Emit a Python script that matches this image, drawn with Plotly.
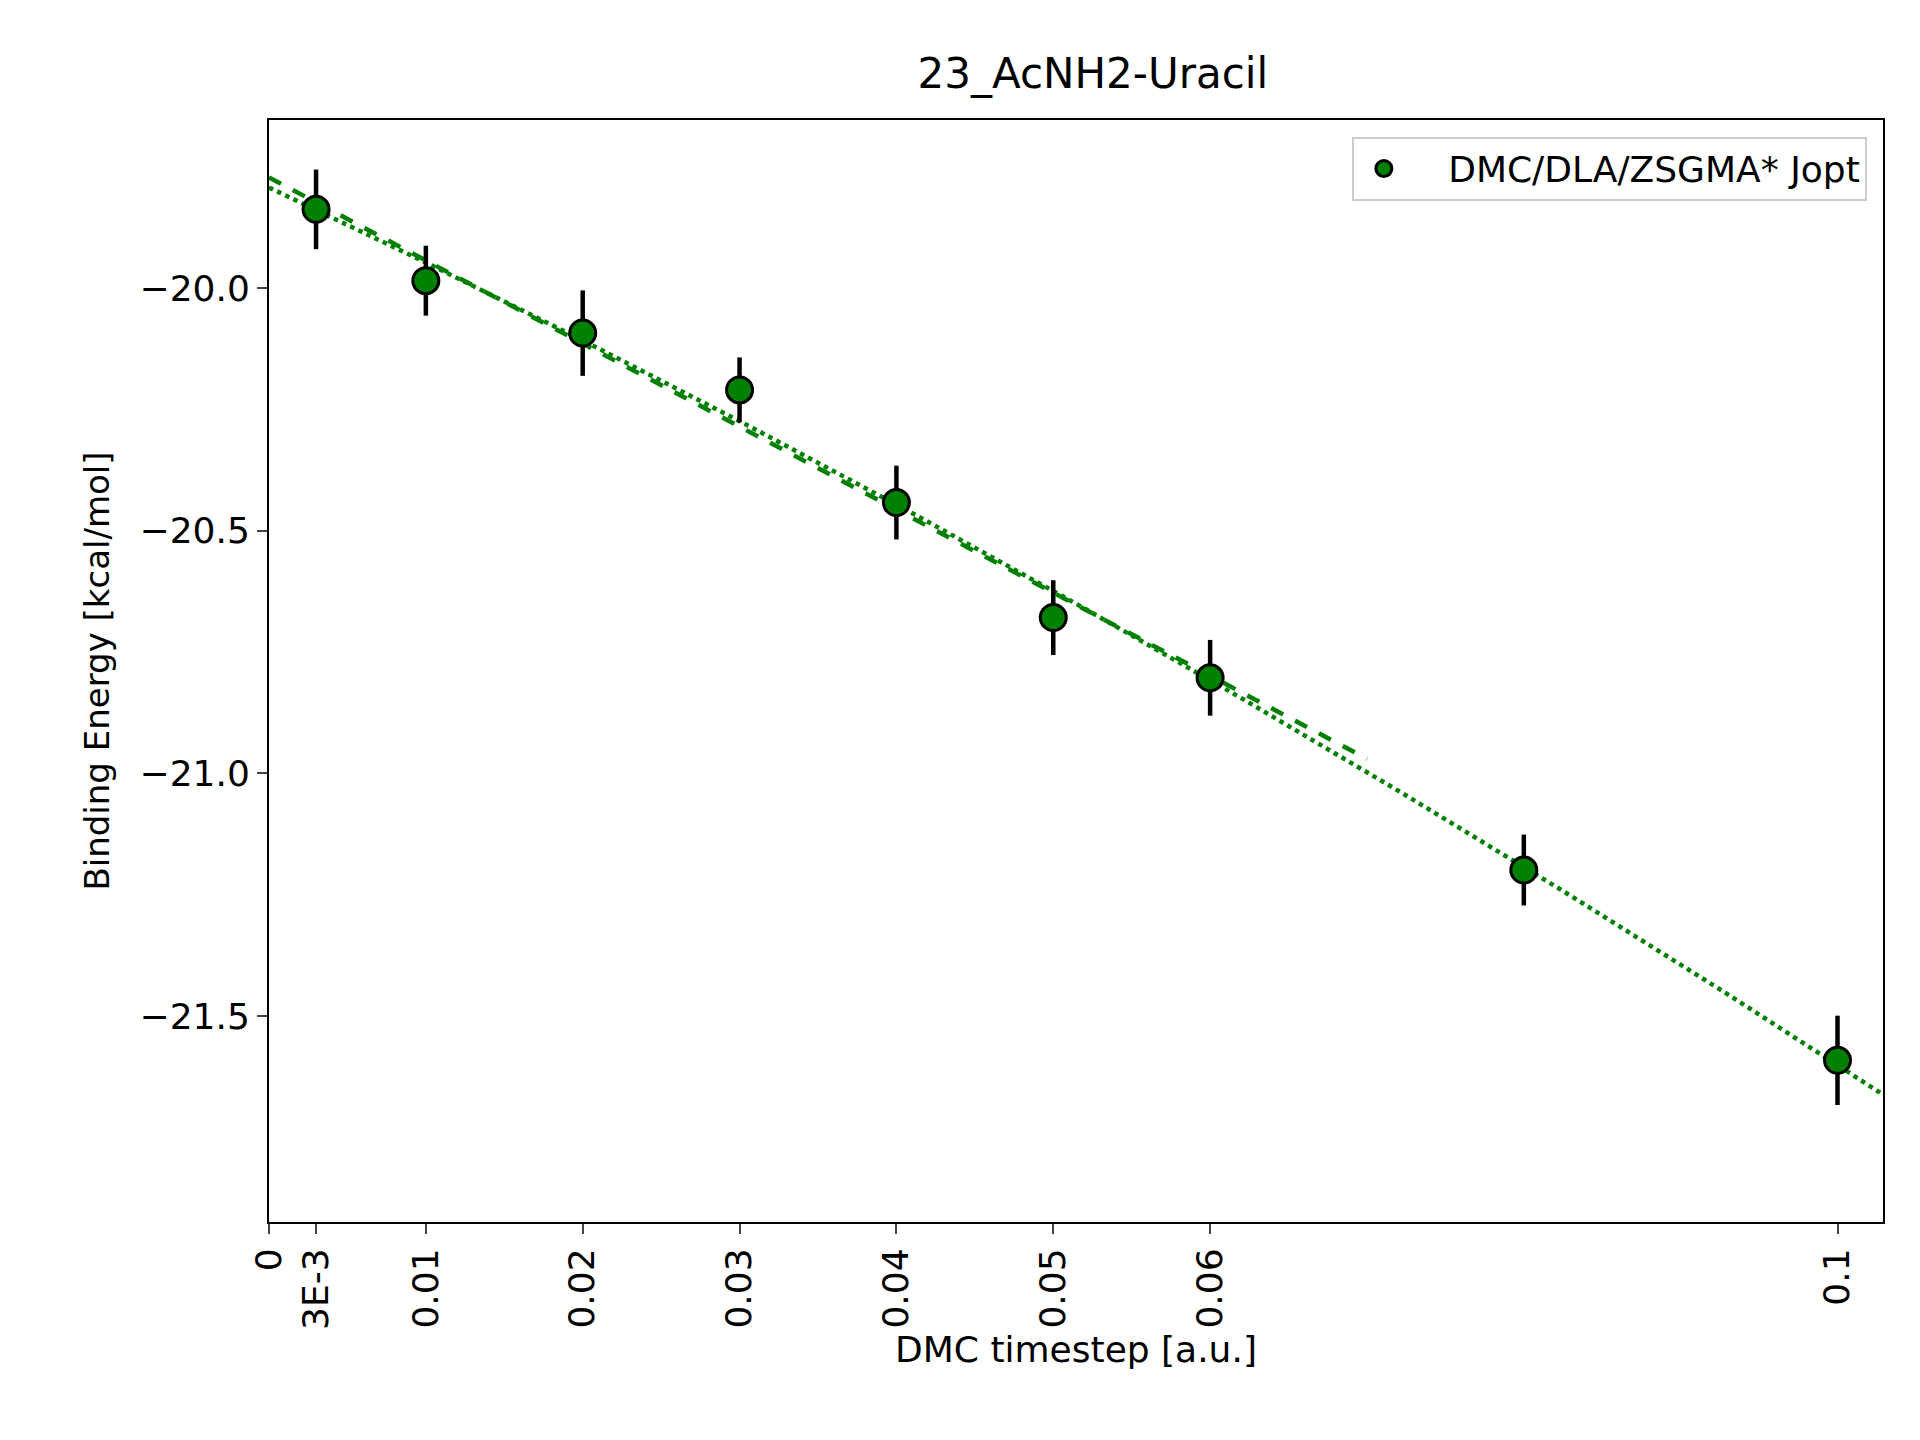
import numpy as np
import plotly.graph_objects as go

x = [0.003, 0.01, 0.02, 0.03, 0.04, 0.05, 0.06, 0.08, 0.1]
y = [-19.838, -19.985, -20.093, -20.21, -20.442, -20.679, -20.803, -21.199, -21.591]
err = [0.082, 0.072, 0.088, 0.067, 0.076, 0.077, 0.078, 0.073, 0.092]
xticks = [0, 0.003, 0.01, 0.02, 0.03, 0.04, 0.05, 0.06, 0.1]
xticklabels = ["0", "3E-3", "0.01", "0.02", "0.03", "0.04", "0.05", "0.06", "0.1"]
yticks = [-20.0, -20.5, -21.0, -21.5]
yticklabels = ["\u221220.0", "\u221220.5", "\u221221.0", "\u221221.5"]

xa = np.array(x); ya = np.array(y)
m = xa <= 0.06
p1 = np.polyfit(xa[m], ya[m], 1)
xd = np.linspace(0, 0.07, 50)
p2 = np.polyfit(xa, ya, 2)
xo = np.linspace(0, 0.1029, 100)

fig = go.Figure()
fig.add_trace(go.Scatter(x=xd, y=np.polyval(p1, xd), mode="lines",
    line=dict(color="green", dash="dash", width=4.5), showlegend=False))
fig.add_trace(go.Scatter(x=xo, y=np.polyval(p2, xo), mode="lines",
    line=dict(color="green", dash="dot", width=4.5), showlegend=False))
fig.add_trace(go.Scatter(x=x, y=y, mode="markers", name="   DMC/DLA/ZSGMA* Jopt",
    marker=dict(color="green", size=26, line=dict(color="black", width=3)),
    error_y=dict(type="data", array=err, color="black", thickness=4.5, width=0)))

fig.update_layout(
    width=1920, height=1440, plot_bgcolor="white", paper_bgcolor="white",
    margin=dict(l=261, r=45, t=112, b=226),
    font=dict(family="DejaVu Sans", color="black", size=34),
    title=dict(text="23_AcNH2-Uracil", x=0.565, xanchor="center", y=0.965, font=dict(size=42)),
    legend=dict(x=0.99, y=0.985, xanchor="right", yanchor="top", bordercolor="#cccccc",
                borderwidth=2, bgcolor="white", font=dict(size=36), itemwidth=50),
)
fig.update_xaxes(range=[0, 0.1029], tickvals=xticks, ticktext=xticklabels, tickangle=-90,
    showgrid=False, zeroline=False, showline=True, linecolor="black", linewidth=2, mirror=True,
    ticks="outside", ticklen=10, tickwidth=2, tickfont=dict(size=36),
    title=dict(text="DMC timestep [a.u.]", font=dict(size=36), standoff=8))
fig.update_yaxes(range=[-21.924, -19.654], tickvals=yticks, ticktext=yticklabels,
    showgrid=False, zeroline=False, showline=True, linecolor="black", linewidth=2, mirror=True,
    ticks="outside", ticklen=10, tickwidth=2, tickfont=dict(size=36),
    title=dict(text="Binding Energy [kcal/mol]", font=dict(size=34), standoff=20))
fig.write_html("out.html")
